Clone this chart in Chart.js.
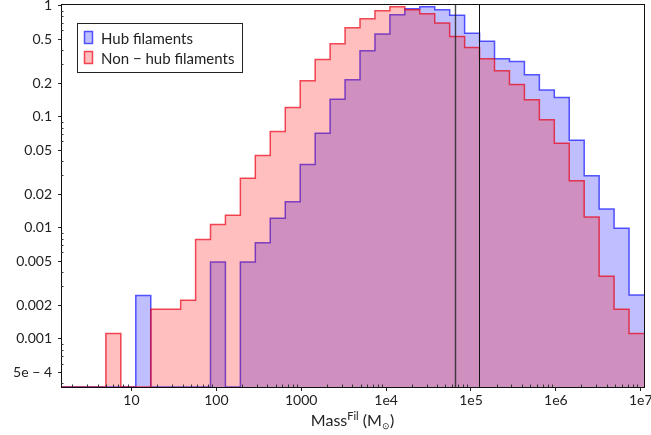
<!DOCTYPE html>
<html>
<head>
<meta charset="utf-8">
<script src="https://cdn.jsdelivr.net/npm/chart.js@4.4.1/dist/chart.umd.min.js"></script>
<style>
  html, body { margin: 0; padding: 0; background: #fff; }
  #wrap { width: 651px; height: 435px; }
</style>
</head>
<body>
<div id="wrap"><canvas id="chart" width="651" height="435"></canvas></div>
<script>
// histogram bin edges (log-spaced, factor ~1.5)
const binEdges = [1.48, 2.22, 3.33, 5.0, 7.5, 11.25, 16.9, 25.3, 38.0, 57.0,
  85.4, 128, 192, 288, 432, 649, 973, 1460, 2190, 3284,
  4926, 7389, 11084, 16626, 24939, 37409, 56113, 84170, 126255, 189383,
  284074, 426111, 639167, 958750, 1438125, 2157188, 3235782, 4853673, 7280510, 10920765];

// normalised counts per bin (39 bins)
const hubValues = [0, 0, 0, 0, 0, 0.00246, 0, 0, 0, 0,
  0.00492, 0, 0.00492, 0.00734, 0.0122, 0.0172, 0.0371, 0.0711, 0.144, 0.215,
  0.393, 0.555, 0.83, 0.94, 0.98, 0.92, 0.818, 0.563, 0.477, 0.333,
  0.315, 0.239, 0.174, 0.149, 0.0615, 0.0295, 0.0148, 0.0099, 0.00248];
const nonHubValues = [0, 0, 0, 0.00112, 0, 0, 0.00185, 0.00185, 0.00223, 0.00787,
  0.0107, 0.0130, 0.0279, 0.0447, 0.0736, 0.121, 0.211, 0.328, 0.454, 0.634,
  0.763, 0.90, 0.98, 0.92, 0.847, 0.698, 0.529, 0.421, 0.333, 0.259,
  0.195, 0.142, 0.0938, 0.0578, 0.0266, 0.0125, 0.00367, 0.00185, 0.00112];

const seriesNames = ['Hub filaments', 'Non \u2212 hub filaments'];

const xTickValues = [10, 100, 1000, 1e4, 1e5, 1e6, 1e7];
const xTickText = ['10', '100', '1000', '1e4', '1e5', '1e6', '1e7'];
const yTickValues = [1, 0.5, 0.2, 0.1, 0.05, 0.02, 0.01, 0.005, 0.002, 0.001, 5e-4];
const yTickText = ['1', '0.5', '0.2', '0.1', '0.05', '0.02', '0.01', '0.005', '0.002', '0.001', '5e \u2212 4'];

// the two vertical reference masses
const markerLines = [6.48e4, 1.25e5];

const X_MIN = 1.48, X_MAX = 1.092e7;
const Y_MIN = 3.69e-4, Y_MAX = 1.035;

const FONT = 'Lato';
Chart.defaults.font.family = FONT;

const blueFill = 'rgba(0,0,255,0.25)', blueLine = 'rgba(20,20,255,0.7)';
const redFill = 'rgba(255,0,0,0.25)', redLine = 'rgba(235,0,20,0.7)';

// step outline: left edge of every bin carries its value, last edge repeats the last value
function stepPoints(vals) {
  return binEdges.map((x, i) => {
    const v = vals[Math.min(i, vals.length - 1)];
    return { x, y: v > 0 ? v : Y_MIN }; // empty bins sit on the axis floor
  });
}

function minorTicks(min, max) {
  const out = [];
  for (let e = Math.floor(Math.log10(min)); e <= Math.ceil(Math.log10(max)); e++) {
    for (let k = 1; k <= 9; k++) {
      const v = k * Math.pow(10, e);
      if (v >= min && v <= max) out.push(v);
    }
  }
  return out;
}

const near = (a, b) => Math.abs(a - b) / b < 1e-6;
const labelFor = (vals, texts, v) => {
  const i = vals.findIndex(t => near(v, t));
  return i >= 0 ? texts[i] : '';
};

const extras = {
  id: 'extras',
  afterDatasetsDraw(chart) {
    const { ctx, chartArea: a, scales: { x } } = chart;
    ctx.save();
    // vertical reference lines
    markerLines.forEach((m, i) => {
      const px = Math.round(x.getPixelForValue(m)) + 0.5;
      ctx.strokeStyle = i === 0 ? 'rgba(30,30,30,0.8)' : '#111';
      ctx.lineWidth = i === 0 ? 1.4 : 1;
      ctx.beginPath();
      ctx.moveTo(px, a.top);
      ctx.lineTo(px, a.bottom);
      ctx.stroke();
    });
    ctx.restore();
  },
  afterDraw(chart) {
    const { ctx, chartArea: a, scales: { x, y } } = chart;
    ctx.save();
    // frame
    ctx.strokeStyle = '#111';
    ctx.lineWidth = 1;
    ctx.strokeRect(Math.round(a.left) + 0.5, Math.round(a.top) + 0.5,
      Math.round(a.right - a.left), Math.round(a.bottom - a.top));

    // minor ticks pointing inward
    ctx.strokeStyle = '#333';
    ctx.beginPath();
    minorTicks(X_MIN, X_MAX).forEach(v => {
      if (xTickValues.some(t => near(v, t))) return;
      const px = Math.round(x.getPixelForValue(v)) + 0.5;
      ctx.moveTo(px, a.bottom);
      ctx.lineTo(px, a.bottom - 2.5);
    });
    minorTicks(Y_MIN, Y_MAX).forEach(v => {
      if (yTickValues.some(t => near(v, t))) return;
      const py = Math.round(y.getPixelForValue(v)) + 0.5;
      ctx.moveTo(a.left, py);
      ctx.lineTo(a.left + 2.5, py);
    });
    ctx.stroke();

    // legend box
    ctx.fillStyle = '#fff';
    ctx.fillRect(77.5, 23.5, 165, 49);
    ctx.strokeStyle = '#222';
    ctx.strokeRect(77.5, 23.5, 165, 49);
    const rows = [
      { fill: blueFill, line: blueLine, y: 31 },
      { fill: redFill, line: redLine, y: 51 }
    ];
    ctx.font = '15px ' + FONT;
    ctx.textBaseline = 'alphabetic';
    ctx.textAlign = 'left';
    rows.forEach((r, i) => {
      ctx.fillStyle = r.fill;
      ctx.fillRect(84.5, r.y + 0.5, 8, 12);
      ctx.strokeStyle = r.line;
      ctx.lineWidth = 1.5;
      ctx.strokeRect(84.5, r.y + 0.5, 8, 12);
      ctx.fillStyle = '#222';
      ctx.fillText(seriesNames[i], 101, r.y + 13);
    });

    // x axis title: Mass^Fil (M_sun)
    const base = 426;
    const parts = [
      { t: 'Mass', size: 16, dy: 0 },
      { t: 'Fil', size: 11, dy: -6 },
      { t: ' (M', size: 16, dy: 0 },
      { t: '\u2299', size: 9, dy: 3 },
      { t: ')', size: 16, dy: 0 }
    ];
    let total = 0;
    parts.forEach(p => { ctx.font = p.size + 'px ' + FONT; p.w = ctx.measureText(p.t).width; total += p.w; });
    let cx = (a.left + a.right) / 2 - total / 2;
    ctx.fillStyle = '#222';
    parts.forEach(p => {
      ctx.font = p.size + 'px ' + FONT;
      ctx.fillText(p.t, cx, base + p.dy);
      cx += p.w;
    });
    ctx.restore();
  }
};

const ctx = document.getElementById('chart');
new Chart(ctx, {
  type: 'line',
  data: {
    datasets: [
      {
        label: seriesNames[0], data: stepPoints(hubValues), order: 1,
        stepped: 'before', fill: 'start', backgroundColor: blueFill,
        borderColor: blueLine, borderWidth: 1.5, pointRadius: 0
      },
      {
        label: seriesNames[1], data: stepPoints(nonHubValues), order: 0,
        stepped: 'before', fill: 'start', backgroundColor: redFill,
        borderColor: redLine, borderWidth: 1.5, pointRadius: 0
      }
    ]
  },
  options: {
    responsive: false,
    animation: false,
    devicePixelRatio: 1,
    layout: { padding: { top: 4, right: 7, left: 0, bottom: 0 } },
    plugins: { legend: { display: false }, tooltip: { enabled: false } },
    scales: {
      x: {
        type: 'logarithmic', min: X_MIN, max: X_MAX,
        afterBuildTicks: s => { s.ticks = xTickValues.map(v => ({ value: v })); },
        afterFit: s => { s.height = 48; s.paddingLeft = 0; s.paddingRight = 0; },
        ticks: {
          autoSkip: false, maxRotation: 0, padding: 1, color: '#222',
          font: { size: 14 },
          callback: v => labelFor(xTickValues, xTickText, v)
        },
        grid: { drawOnChartArea: false, tickLength: 4, color: '#222' },
        border: { color: '#111', width: 1 }
      },
      y: {
        type: 'logarithmic', min: Y_MIN, max: Y_MAX,
        afterBuildTicks: s => { s.ticks = yTickValues.map(v => ({ value: v })); },
        afterFit: s => { s.width = 61; s.paddingTop = 0; s.paddingBottom = 0; },
        ticks: {
          autoSkip: false, padding: 6, color: '#222',
          font: { size: 14 },
          callback: v => labelFor(yTickValues, yTickText, v)
        },
        grid: { drawOnChartArea: false, tickLength: 3, color: '#222' },
        border: { color: '#111', width: 1 }
      }
    }
  },
  plugins: [extras]
});
</script>
</body>
</html>
